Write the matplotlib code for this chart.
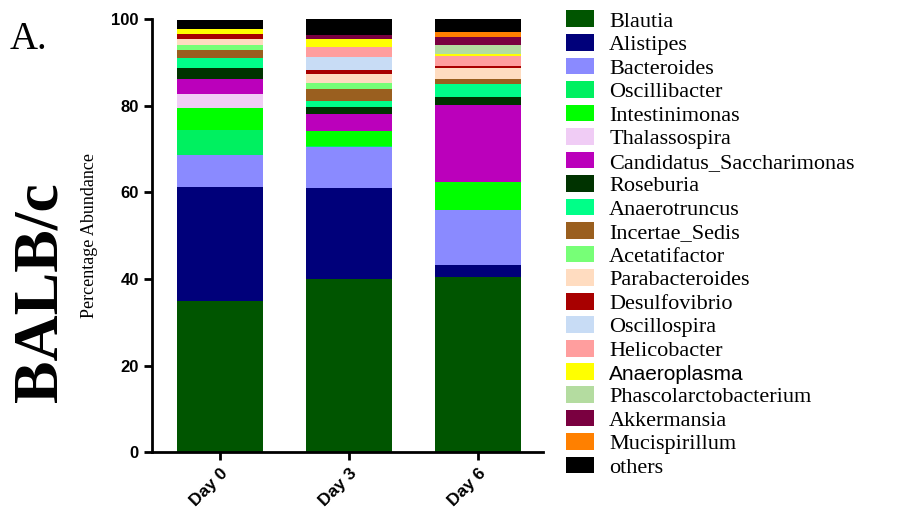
import numpy as np
import matplotlib
matplotlib.use("Agg")
import matplotlib.pyplot as plt
from matplotlib.patches import Patch

days = ["Day 0", "Day 3", "Day 6"]

genera = ["Blautia", "Alistipes", "Bacteroides", "Oscillibacter", "Intestinimonas",
          "Thalassospira", "Candidatus_Saccharimonas", "Roseburia", "Anaerotruncus",
          "Incertae_Sedis", "Acetatifactor", "Parabacteroides", "Desulfovibrio",
          "Oscillospira", "Helicobacter", "Anaeroplasma", "Phascolarctobacterium",
          "Akkermansia", "Mucispirillum", "others"]

# percentage abundance per genus, order: Day 0, Day 3, Day 6
blautia = [34.9, 40.0, 40.4]
alistipes = [26.4, 21.0, 2.7]
bacteroides = [7.3, 9.4, 12.7]
oscillibacter = [5.8, 0.3, 0.0]
intestinimonas = [5.0, 3.5, 6.5]
thalassospira = [3.4, 0.0, 0.0]
candidatus = [3.3, 3.9, 17.8]
roseburia = [2.6, 1.5, 1.8]
anaerotruncus = [2.2, 1.4, 3.0]
incertae = [1.9, 2.9, 1.2]
acetatifactor = [1.3, 1.4, 0.0]
parabacteroides = [1.2, 2.0, 2.5]
desulfovibrio = [1.2, 1.0, 0.6]
oscillospira = [0.0, 2.9, 0.0]
helicobacter = [0.0, 2.3, 2.2]
anaeroplasma = [1.2, 1.8, 0.5]
phascolarcto = [0.0, 0.0, 2.2]
akkermansia = [0.0, 1.1, 1.8]
mucispirillum = [0.0, 0.0, 1.1]
others = [2.1, 3.9, 3.0]

colors = ["#005500", "#00007a", "#8a8aff", "#00f060", "#00ff00",
          "#f0ccf5", "#bb00bb", "#003300", "#00ff88", "#9a5f1f",
          "#77ff77", "#ffdcc0", "#a80000", "#c8dcf5", "#ff9e9e",
          "#ffff00", "#b4dca0", "#7a0040", "#ff8000", "#000000"]

series = [blautia, alistipes, bacteroides, oscillibacter, intestinimonas,
          thalassospira, candidatus, roseburia, anaerotruncus, incertae,
          acetatifactor, parabacteroides, desulfovibrio, oscillospira, helicobacter,
          anaeroplasma, phascolarcto, akkermansia, mucispirillum, others]

fig = plt.figure(figsize=(9.22, 5.15), dpi=100)
ax = fig.add_axes([0.165, 0.122, 0.424, 0.841])

x = np.arange(len(days))
bottom = np.zeros(len(days))
for vals, c in zip(series, colors):
    ax.bar(x, vals, width=0.667, bottom=bottom, color=c, edgecolor='none')
    bottom += np.array(vals)

ax.set_ylim(0, 100)
ax.set_xlim(-0.527, 2.504)
ax.set_yticks([0, 20, 40, 60, 80, 100])
ax.set_xticks(x)
ax.set_xticklabels(days, rotation=45, ha='right', rotation_mode='anchor',
                   fontweight='bold', fontsize=12.5, family='Liberation Sans')
for t in ax.get_yticklabels():
    t.set_fontweight('bold')
    t.set_fontsize(12)
    t.set_family('Liberation Sans')
ax.spines['top'].set_visible(False)
ax.spines['right'].set_visible(False)
ax.spines['left'].set_linewidth(2)
ax.spines['bottom'].set_linewidth(2)
ax.tick_params(width=2, length=6)
ax.set_ylabel("Percentage Abundance", family='Liberation Serif', fontsize=13, labelpad=10)

fig.text(0.010, 0.905, "A.", family='Liberation Serif', fontsize=28)
fig.text(0.045, 0.432, "BALB/c", family='Liberation Serif', fontweight='bold',
         fontsize=46, rotation=90, ha='center', va='center')

handles = [Patch(facecolor=c, edgecolor='none') for c in colors]
leg = fig.legend(handles, genera, loc='upper left', bbox_to_anchor=(0.604, 0.997),
                 frameon=False, prop={'family': 'Liberation Serif', 'size': 16},
                 handlelength=1.25, handleheight=0.78, handletextpad=0.7,
                 labelspacing=0.11, borderaxespad=0)
leg.get_texts()[15].set_family('Liberation Sans')
leg.get_texts()[15].set_fontsize(15)

fig.savefig("out.png", dpi=100)
